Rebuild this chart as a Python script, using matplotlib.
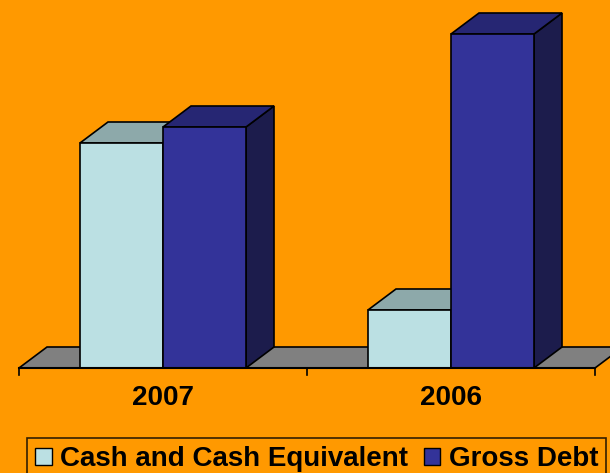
import matplotlib
matplotlib.use("Agg")
from matplotlib import pyplot as plt
from matplotlib.patches import Polygon, Patch
import numpy as np

categories = ["2007", "2006"]
series_names = ["Cash and Cash Equivalent", "Gross Debt"]
cash = [225, 58]
debt = [241, 334]

front_colors = ["#BBE0E3", "#333399"]
top_colors = ["#8DA9AA", "#262673"]
side_colors = ["#6F8688", "#1C1C4C"]
bg = "#FF9900"

plt.rcParams['font.family'] = ['Liberation Sans', 'DejaVu Sans']

fig = plt.figure(figsize=(6.10, 4.73), dpi=100, facecolor=bg)
ax = fig.add_axes([0, 0, 1, 1])
ax.set_facecolor(bg)
# 1 x unit = one category (288 px), 1 y unit = 1 px
ax.set_xlim(-19 / 288, (610 - 19) / 288)
ax.set_ylim(-105, 368)
ax.axis("off")

ddx = 28 / 288  # depth offset
ddy = 21
bw = 83 / 288
n = len(categories)

# floor
ax.add_patch(Polygon([(0, 0), (n, 0), (n + ddx, ddy), (ddx, ddy)],
                     closed=True, facecolor="#808080", edgecolor="black", lw=1.2))
ax.plot([0, n], [0, 0], color="black", lw=1.5)
for t in range(n + 1):
    ax.plot([t, t], [0, -7], color="black", lw=1.2)


def bar3d(x0, h, k):
    kw = dict(closed=True, edgecolor="black", lw=1.2)
    ax.add_patch(Polygon([(x0 + bw, 0), (x0 + bw + ddx, ddy), (x0 + bw + ddx, h + ddy), (x0 + bw, h)],
                         facecolor=side_colors[k], **kw))
    ax.add_patch(Polygon([(x0, h), (x0 + bw, h), (x0 + bw + ddx, h + ddy), (x0 + ddx, h + ddy)],
                         facecolor=top_colors[k], **kw))
    ax.add_patch(Polygon([(x0, 0), (x0 + bw, 0), (x0 + bw, h), (x0, h)],
                         facecolor=front_colors[k], **kw))


for i in range(n):
    c = i + 0.5
    bar3d(c - bw, cash[i], 0)
    bar3d(c, debt[i], 1)
    ax.text(c, -30, categories[i], ha="center", va="center",
            fontsize=20, fontweight="bold")

handles = [Patch(facecolor=front_colors[k], edgecolor="black", lw=1) for k in range(2)]
leg = ax.legend(handles, series_names, loc="upper left", bbox_to_anchor=(27 / 610, 1 - 438 / 473),
                bbox_transform=fig.transFigure, ncol=2,
                prop={"weight": "bold", "size": 20}, frameon=True, fancybox=False,
                handlelength=0.6, handleheight=0.6, handletextpad=0.3,
                columnspacing=0.55, borderpad=0.3, borderaxespad=0)
leg.get_frame().set_facecolor(bg)
leg.get_frame().set_edgecolor("black")
leg.get_frame().set_linewidth(1.2)

fig.savefig("out.png", dpi=100, facecolor=bg)
